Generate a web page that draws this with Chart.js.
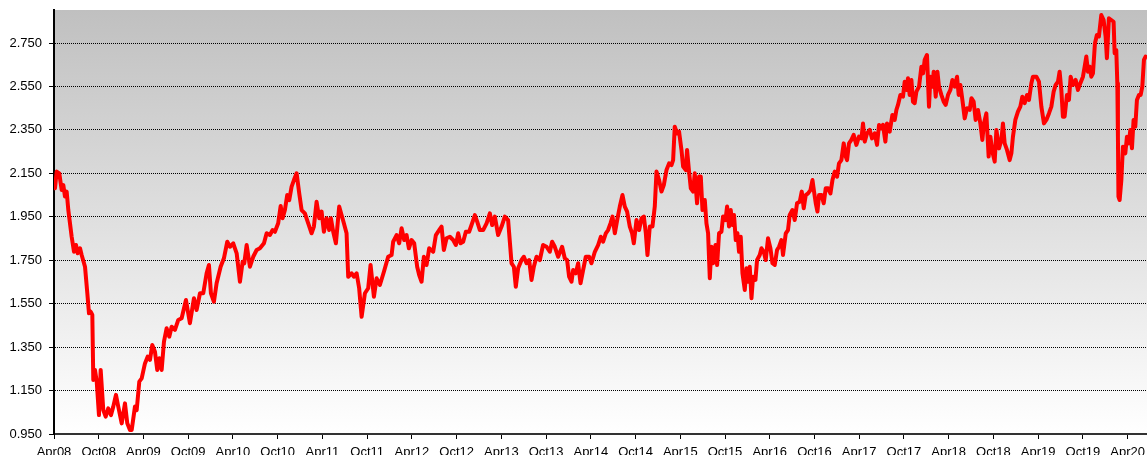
<!DOCTYPE html>
<html lang="en">
<head>
  <meta charset="UTF-8">
  <title>Price history Apr08 - Jun20</title>
  <script src="https://cdn.jsdelivr.net/npm/chart.js"></script>
  <style>
    html, body { margin: 0; padding: 0; background: #fff; }
    #wrap { width: 1147px; height: 455px; }
  </style>
</head>
<body>
  <div id="wrap"><canvas id="priceChart" width="1147" height="455"></canvas></div>
  <script>
    // months elapsed since Apr 2008
    const months = [
      0.13, 0.36, 0.71, 1.03, 1.25, 1.47, 1.70, 1.92, 2.37, 2.68,
      2.95, 3.18, 3.49, 3.71, 4.16, 4.47, 4.69, 4.92, 5.14, 5.27,
      5.50, 5.73, 6.03, 6.26, 6.61, 6.93, 7.28, 7.64, 7.95, 8.31,
      8.62, 9.08, 9.52, 9.83, 10.19, 10.42, 10.86, 11.09, 11.44, 11.76,
      12.20, 12.56, 12.87, 13.18, 13.54, 13.85, 14.12, 14.44, 14.75, 15.11,
      15.46, 15.78, 16.22, 16.67, 17.12, 17.70, 18.23, 18.77, 19.13, 19.58,
      20.02, 20.47, 20.78, 21.05, 21.45, 21.81, 22.35, 22.79, 23.24, 23.60,
      24.04, 24.50, 24.94, 25.30, 25.52, 25.84, 26.28, 26.72, 27.18, 27.62,
      28.16, 28.52, 28.96, 29.32, 29.63, 30.07, 30.40, 30.66, 30.97, 31.28,
      31.55, 31.87, 32.18, 32.54, 32.89, 33.21, 33.65, 34.10, 34.55, 34.86,
      35.22, 35.57, 35.89, 36.20, 36.56, 36.91, 37.14, 37.45, 37.81, 38.25,
      38.57, 38.88, 39.24, 39.46, 39.92, 40.22, 40.59, 40.93, 41.26,
      41.70, 42.14, 42.46, 42.91, 43.27, 43.71, 44.25, 44.82, 45.28, 45.49,
      45.95, 46.30, 46.62, 46.97, 47.29, 47.60, 47.96, 48.31, 48.71, 48.98,
      49.30, 49.61, 49.97, 50.32, 50.86, 51.22, 51.66, 51.98, 52.29, 52.65,
      53.10, 53.54, 53.90, 54.21, 54.53, 54.88, 55.24, 55.68, 56.00, 56.45,
      56.76, 57.12, 57.56, 58.02, 58.46, 58.77, 59.13, 59.57, 60.03, 60.47,
      60.91, 61.37, 61.68, 61.94, 62.25, 62.71, 63.02, 63.38, 63.73,
      64.05, 64.36, 64.72, 65.16, 65.60, 66.06, 66.50, 66.81, 67.17, 67.62,
      68.15, 68.51, 68.82, 69.09, 69.41, 69.63, 69.99, 70.30, 70.62, 70.97,
      71.33, 71.77, 72.09, 72.54, 72.98, 73.34, 73.65, 74.01, 74.32, 74.64,
      74.91, 75.22, 75.58, 75.89, 76.25, 76.56, 76.87, 77.23, 77.54, 77.77,
      78.13, 78.48, 78.80, 79.11, 79.38, 79.60, 79.91, 80.27, 80.58, 80.81,
      81.16, 81.48, 81.79, 82.15, 82.50, 82.82, 83.04, 83.26, 83.57, 83.84,
      84.16, 84.38, 84.74, 84.91, 85.18, 85.41, 85.72, 85.94, 86.25, 86.52,
      86.75, 86.98, 87.29, 87.51, 87.73, 87.96, 88.18, 88.40, 88.72, 88.94,
      89.20, 89.52, 89.74, 90.06, 90.28, 90.54, 90.77, 91.00, 91.21, 91.44,
      91.67, 91.88, 92.11, 92.34, 92.65, 92.88, 93.09, 93.32, 93.55, 93.76,
      94.08, 94.30, 94.66, 94.89, 95.20, 95.46, 95.77, 96.09, 96.36, 96.67,
      96.98, 97.25, 97.57, 97.78, 98.15, 98.45, 98.68, 99.04, 99.35, 99.66,
      100.02, 100.29, 100.56, 100.83, 101.14, 101.46, 101.73, 101.94, 102.17, 102.40,
      102.61, 102.93, 103.24, 103.51, 103.82, 104.14, 104.41, 104.72, 105.03, 105.29,
      105.61,
      105.92, 106.19, 106.37, 106.63, 106.95, 107.26, 107.62, 107.97, 108.30, 108.51,
      108.74, 109.04, 109.41, 109.72, 110.08, 110.39, 110.66, 110.98, 111.19, 111.51,
      111.73, 112.09, 112.45, 112.76, 112.99, 113.20, 113.52, 113.87, 114.10, 114.33,
      114.54, 114.77, 115.00, 115.21, 115.44, 115.67, 116.02, 116.34, 116.56, 116.78,
      117.09, 117.36, 117.55, 117.81, 117.99, 118.26, 118.49, 118.70, 119.02, 119.33,
      119.60, 119.91, 120.23, 120.50, 120.81, 121.12, 121.34, 121.57, 121.84, 122.15,
      122.46, 122.82, 123.05, 123.35, 123.62, 123.93, 124.25, 124.52, 124.73, 125.05,
      125.36, 125.59, 125.86, 126.17, 126.40, 126.75,
      127.07, 127.28, 127.51, 127.82, 128.18, 128.41, 128.62, 128.94, 129.29, 129.61,
      129.88, 130.19, 130.50, 130.77, 131.09, 131.30, 131.76, 132.11, 132.43, 132.78,
      133.10, 133.45, 133.77, 134.08, 134.35, 134.66, 134.88, 135.11, 135.32, 135.55,
      135.86, 136.13, 136.36, 136.67, 137.03, 137.34, 137.66, 138.01, 138.24, 138.46,
      138.68, 138.91, 139.13, 139.35, 139.62, 139.88, 140.15, 140.47, 140.78, 141.05,
      141.22, 141.49, 141.81, 142.12, 142.26, 142.48, 142.62, 142.70, 142.77, 142.93,
      143.16, 143.37, 143.69, 143.91, 144.17, 144.36, 144.58, 144.80, 145.03, 145.25,
      145.52, 145.75, 145.97, 146.19, 146.41
    ];

    const prices = [
      2.081, 2.158, 2.150, 2.073, 2.096, 2.043, 2.066, 1.981, 1.858, 1.789,
      1.820, 1.782, 1.805, 1.774, 1.720, 1.598, 1.506, 1.513, 1.498, 1.199,
      1.245, 1.191, 1.037, 1.245, 1.060, 1.030, 1.068, 1.037, 1.076, 1.130,
      1.076, 0.999, 1.091, 0.999, 0.968, 0.968, 1.076, 1.060, 1.191, 1.206,
      1.275, 1.306, 1.291, 1.360, 1.329, 1.245, 1.299, 1.245, 1.375, 1.437,
      1.398, 1.444, 1.429, 1.475, 1.483, 1.567, 1.460, 1.575, 1.521, 1.598,
      1.598, 1.690, 1.728, 1.598, 1.559, 1.644, 1.720, 1.759, 1.835, 1.812,
      1.828, 1.782, 1.651, 1.743, 1.736, 1.820, 1.720, 1.766, 1.797, 1.805,
      1.828, 1.874, 1.866, 1.889, 1.881, 1.920, 2.000, 1.943, 1.981, 2.050,
      2.027, 2.089, 2.119, 2.150, 2.058, 1.981, 1.966, 1.920, 1.874, 1.905,
      2.019, 1.943, 1.974, 1.881, 1.943, 1.889, 1.943, 1.881, 1.828, 1.997,
      1.958, 1.920, 1.874, 1.674, 1.690, 1.674, 1.690, 1.621, 1.490,
      1.598, 1.621, 1.728, 1.582, 1.667, 1.636, 1.697, 1.766, 1.774, 1.835,
      1.866, 1.828, 1.897, 1.843, 1.866, 1.805, 1.843, 1.828, 1.720, 1.682,
      1.651, 1.766, 1.728, 1.805, 1.789, 1.866, 1.889, 1.905, 1.797, 1.851,
      1.858, 1.843, 1.820, 1.874, 1.828, 1.835, 1.881, 1.881, 1.912, 1.958,
      1.928, 1.889, 1.889, 1.920, 1.966, 1.912, 1.951, 1.866, 1.905, 1.951,
      1.935, 1.736, 1.720, 1.628, 1.713, 1.751, 1.766, 1.736, 1.751,
      1.659, 1.720, 1.766, 1.751, 1.820, 1.812, 1.789, 1.835, 1.812, 1.766,
      1.812, 1.759, 1.751, 1.674, 1.651, 1.705, 1.690, 1.736, 1.644, 1.705,
      1.766, 1.766, 1.736, 1.789, 1.820, 1.858, 1.835, 1.874, 1.889, 1.920,
      1.951, 1.874, 1.943, 1.997, 2.050, 1.997, 1.974, 1.905, 1.874, 1.828,
      1.935, 1.889, 1.943, 1.951, 1.874, 1.774, 1.905, 1.905, 1.997, 2.158,
      2.119, 2.066, 2.096, 2.165, 2.196, 2.188, 2.211, 2.365, 2.334, 2.342,
      2.258, 2.181, 2.165, 2.258, 2.158, 2.081, 2.066, 2.150, 2.012, 2.135,
      2.135, 1.981, 2.027, 1.920, 1.874, 1.667, 1.812, 1.736, 1.820, 1.728,
      1.874, 1.881, 1.951, 1.935, 1.997, 1.905, 1.981, 1.912, 1.958, 1.843,
      1.874, 1.789, 1.858, 1.690, 1.613, 1.713, 1.651, 1.720, 1.575, 1.674,
      1.659, 1.751, 1.774, 1.805, 1.789, 1.751, 1.851, 1.805, 1.736, 1.728,
      1.797, 1.812, 1.843, 1.774, 1.874, 1.889, 1.958, 1.981, 1.935, 2.012,
      2.019, 2.066, 1.989, 2.050, 2.058, 2.073, 2.119, 2.066, 2.012, 1.974,
      2.050, 2.050, 2.012, 2.081, 2.081, 2.058, 2.119, 2.158, 2.135, 2.196,
      2.211,
      2.288, 2.227, 2.211, 2.288, 2.304, 2.327, 2.281, 2.319, 2.311, 2.380,
      2.296, 2.334, 2.350, 2.311, 2.334, 2.281, 2.373, 2.357, 2.373, 2.296,
      2.380, 2.342, 2.419, 2.396, 2.442, 2.465, 2.511, 2.503, 2.572, 2.534,
      2.588, 2.511, 2.580, 2.480, 2.473, 2.526, 2.549, 2.641, 2.610, 2.672,
      2.695, 2.457, 2.595, 2.549, 2.618, 2.503, 2.618, 2.549, 2.511, 2.480,
      2.465, 2.511, 2.534, 2.580, 2.549, 2.595, 2.511, 2.557, 2.488, 2.403,
      2.450, 2.442, 2.496, 2.480, 2.396, 2.442, 2.380, 2.304, 2.380, 2.426,
      2.227, 2.319, 2.250, 2.204, 2.350, 2.265,
      2.304, 2.380, 2.288, 2.258, 2.211, 2.242, 2.319, 2.396, 2.434, 2.457,
      2.503, 2.473, 2.511, 2.488, 2.565, 2.595, 2.595, 2.572, 2.457, 2.380,
      2.396, 2.426, 2.457, 2.526, 2.557, 2.572, 2.618, 2.534, 2.411, 2.411,
      2.511, 2.488, 2.595, 2.557, 2.580, 2.534, 2.565, 2.595, 2.641, 2.688,
      2.618, 2.641, 2.595, 2.610, 2.749, 2.787, 2.780, 2.879, 2.856, 2.780,
      2.680, 2.864, 2.856, 2.848, 2.703, 2.718, 2.565, 2.319, 2.043, 2.027,
      2.119, 2.273, 2.242, 2.319, 2.288, 2.350, 2.265, 2.396, 2.365, 2.488,
      2.511, 2.511, 2.549, 2.672, 2.688
    ];

    // x tick labels, one every 6 months starting at Apr08
    const xTickLabels = ['Apr08','Oct08','Apr09','Oct09','Apr10','Oct10','Apr11','Oct11','Apr12','Oct12',
                         'Apr13','Oct13','Apr14','Oct14','Apr15','Oct15','Apr16','Oct16','Apr17','Oct17',
                         'Apr18','Oct18','Apr19','Oct19','Apr20'];
    const yTickValues = [0.95, 1.15, 1.35, 1.55, 1.75, 1.95, 2.15, 2.35, 2.55, 2.75];

    const points = prices.map((p, i) => ({ x: months[i], y: p }));

    // grey-to-white gradient behind the plot
    const bgPlugin = {
      id: 'plotBg',
      beforeDraw(chart) {
        const { ctx, chartArea: a } = chart;
        const g = ctx.createLinearGradient(0, a.top, 0, a.bottom);
        g.addColorStop(0, '#c0c0c0');
        g.addColorStop(1, '#ffffff');
        ctx.save();
        ctx.fillStyle = g;
        ctx.fillRect(a.left, a.top, a.right - a.left, a.bottom - a.top);
        ctx.restore();
      }
    };

    const tickFont = { family: '"Liberation Sans", Arial, sans-serif', size: 13 };

    new Chart(document.getElementById('priceChart').getContext('2d'), {
      type: 'line',
      data: {
        datasets: [{
          data: points,
          borderColor: '#ff0000',
          borderWidth: 4,
          borderJoinStyle: 'round',
          borderCapStyle: 'round',
          pointRadius: 0,
          pointHoverRadius: 0,
          tension: 0,
          fill: false
        }]
      },
      options: {
        responsive: false,
        animation: false,
        layout: { autoPadding: false, padding: { top: 10, left: 0, right: 0, bottom: 0 } },
        plugins: { legend: { display: false }, tooltip: { enabled: false } },
        scales: {
          x: {
            type: 'linear',
            min: 0,
            max: 146.6,
            afterBuildTicks(scale) {
              scale.ticks = xTickLabels.map((_, i) => ({ value: i * 6 }));
            },
            afterFit(scale) {
              scale.height = 21;
              scale.paddingLeft = 0;
              scale.paddingRight = 0;
            },
            ticks: {
              autoSkip: false,
              maxRotation: 0,
              padding: 6,
              color: '#000',
              font: tickFont,
              callback: (v) => xTickLabels[Math.round(v / 6)]
            },
            grid: { drawOnChartArea: false, drawTicks: true, tickLength: 5, tickColor: '#000' },
            border: { color: '#333', width: 2 }
          },
          y: {
            min: 0.95,
            max: 2.902,
            afterBuildTicks(scale) {
              scale.ticks = yTickValues.map(v => ({ value: v }));
            },
            afterFit(scale) {
              scale.width = 54;
              scale.paddingTop = 0;
              scale.paddingBottom = 0;
            },
            ticks: {
              padding: 7,
              color: '#000',
              font: tickFont,
              callback: (v) => Number(v).toFixed(3)
            },
            grid: { color: '#000', lineWidth: 1, tickLength: 5, tickColor: '#000' },
            border: { color: '#000', width: 2, dash: [1, 1] }
          }
        }
      },
      plugins: [bgPlugin]
    });
  </script>
</body>
</html>
